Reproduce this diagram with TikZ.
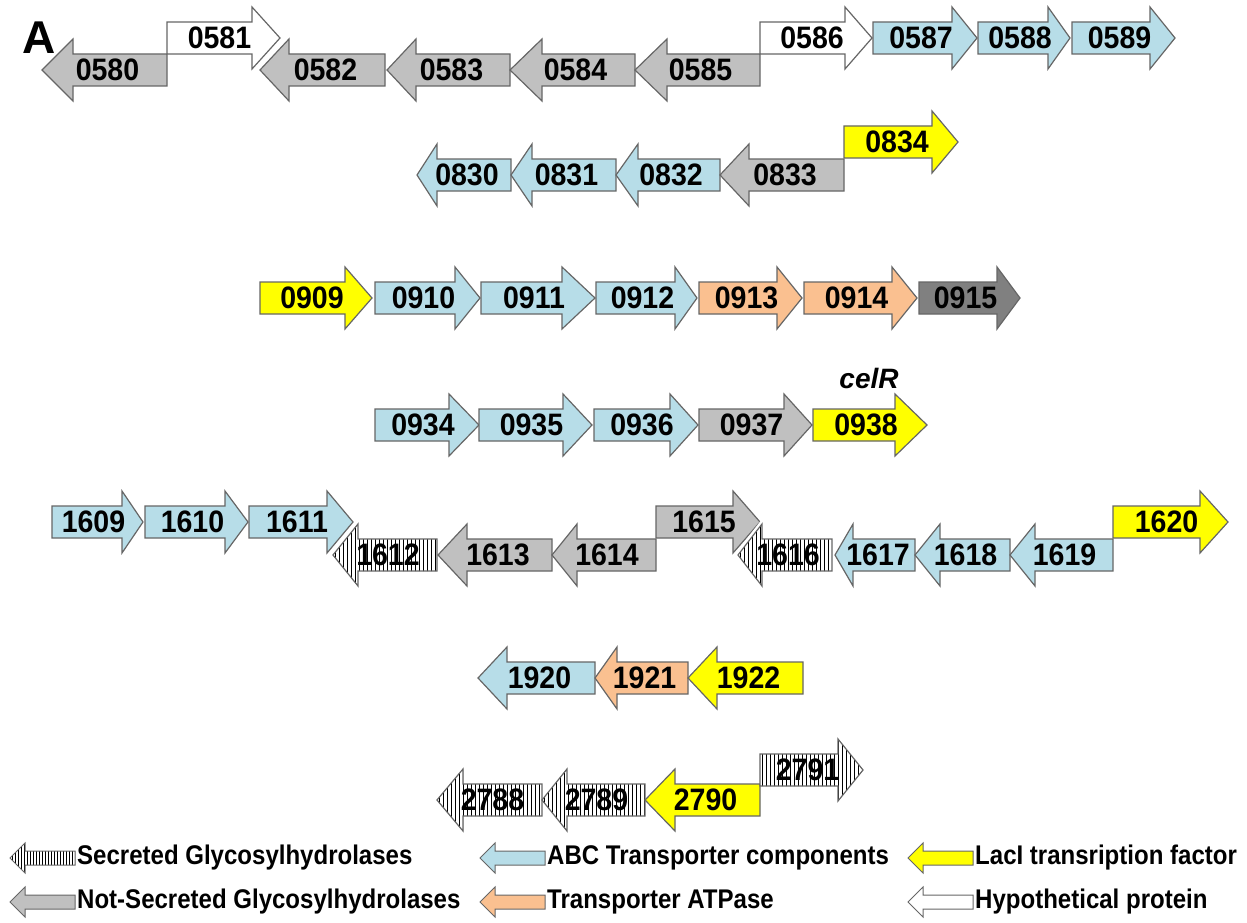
\documentclass[tikz,border=0pt]{standalone}
\usepackage{fontspec}
\setmainfont{Liberation Sans}
\newfontfamily\lblfont[FakeStretch=0.92]{Liberation Sans}
\newfontfamily\legfont[FakeStretch=0.89]{Liberation Sans}
\definecolor{abc}{HTML}{B7DDE8}
\definecolor{ngh}{HTML}{C0C0C0}
\definecolor{dgh}{HTML}{808080}
\definecolor{atp}{HTML}{FAC090}
\definecolor{lac}{HTML}{FFFF00}
\definecolor{edgec}{HTML}{666666}
\tikzset{
  gene/.style={draw=edgec, line width=1.2pt, line join=miter},
  hyp/.style={fill=white},
  abcf/.style={fill=abc},
  nghf/.style={fill=ngh},
  dghf/.style={fill=dgh},
  atpf/.style={fill=atp},
  lacf/.style={fill=lac},
  secf/.style={fill=white, path picture={
      \foreach \i in {2,6,...,130}
        \draw[black,line width=0.9pt] ([xshift=\i pt]path picture bounding box.south west) -- ([xshift=\i pt]path picture bounding box.north west);}},
  secs/.style={fill=white, path picture={
      \foreach \i in {2,5,...,70}
        \draw[black,line width=0.6pt] ([xshift=\i pt]path picture bounding box.south west) -- ([xshift=\i pt]path picture bounding box.north west);}},
  halo/.style={preaction={draw=white,line width=6pt}},
  lbl/.style={font=\lblfont\bfseries\fontsize{31}{31}\selectfont, inner sep=0pt, text=black},
  legtxt/.style={font=\legfont\bfseries\fontsize{27}{27}\selectfont, inner sep=0pt, anchor=west},
}
\newcommand\gR[6]{%
  \draw[gene,#6] (#2,#5-16) -- (#3,#5-16) -- (#3,#5-31) -- (#4,#5) -- (#3,#5+31) -- (#3,#5+16) -- (#2,#5+16) -- cycle;
  \node[lbl] (g#1) at ({(#2+#4)/2-4},#5) {#1};}
\newcommand\gL[6]{%
  \draw[gene,#6] (#2,#5) -- (#3,#5-31) -- (#3,#5-16) -- (#4,#5-16) -- (#4,#5+16) -- (#3,#5+16) -- (#3,#5+31) -- cycle;
  \node[lbl] (g#1) at ({(#2+#4)/2+3},#5) {#1};}
\newcommand\legitem[5]{%
  \draw[gene,line width=1pt,#4] (#2,#3) -- (#2+15,#3-15) -- (#2+15,#3-7) -- (#2+65,#3-7) -- (#2+65,#3+7) -- (#2+15,#3+7) -- (#2+15,#3+15) -- cycle;
  \node[legtxt] (#1) at (#2+67,#3) {#5};}
\begin{document}
\begin{tikzpicture}[x=1pt,y=-1pt]
\useasboundingbox (0,0) rectangle (1247,923);
\node[font=\bfseries\fontsize{46}{46}\selectfont, inner sep=0pt] (A) at (39,38) {A};
% row 1
\gL{0580}{42}{73}{167}{70}{nghf}
\gR{0581}{167}{252}{280}{38}{hyp}
\gL{0582}{260}{289}{385}{70}{nghf,halo}
\gL{0583}{387}{416}{510}{70}{nghf}
\gL{0584}{510}{542}{635}{70}{nghf}
\gL{0585}{635}{667}{760}{70}{nghf}
\gR{0586}{760}{845}{872}{38}{hyp}
\gR{0587}{873}{952}{977}{38}{abcf}
\gR{0588}{978}{1048}{1070}{38}{abcf}
\gR{0589}{1072}{1150}{1175}{38}{abcf}
% row 2
\gL{0830}{417}{437}{511}{175}{abcf}
\gL{0831}{511}{532}{616}{175}{abcf}
\gL{0832}{616}{638}{720}{175}{abcf}
\gL{0833}{720}{749}{844}{175}{nghf}
\gR{0834}{844}{932}{958}{142}{lacf}
% row 3
\gR{0909}{260}{345}{372}{298}{lacf}
\gR{0910}{375}{455}{480}{298}{abcf}
\gR{0911}{481}{562}{595}{298}{abcf}
\gR{0912}{596}{675}{697}{298}{abcf}
\gR{0913}{699}{777}{802}{298}{atpf}
\gR{0914}{804}{892}{917}{298}{atpf}
\gR{0915}{919}{997}{1020}{298}{dghf}
% row 4
\gR{0934}{375}{449}{479}{425}{abcf}
\gR{0935}{479}{563}{592}{425}{abcf}
\gR{0936}{594}{670}{698}{425}{abcf}
\gR{0937}{699}{784}{812}{425}{nghf}
\gR{0938}{813}{895}{927}{425}{lacf}
\node[font=\bfseries\itshape\fontsize{28}{28}\selectfont, inner sep=0pt] (celR) at (869,378) {celR};
% row 5
\gR{1609}{52}{122}{143}{522}{abcf}
\gR{1610}{145}{225}{248}{522}{abcf}
\gR{1611}{249}{327}{353}{522}{abcf}
\gL{1612}{333}{358}{437}{555}{secf,halo}
\gL{1613}{438}{467}{552}{555}{nghf}
\gL{1614}{552}{577}{656}{555}{nghf}
\gR{1615}{656}{733}{760}{522}{nghf}
\gL{1616}{738}{762}{832}{555}{secf,halo}
\gL{1617}{835}{853}{915}{555}{abcf}
\gL{1618}{915}{940}{1010}{555}{abcf}
\gL{1619}{1010}{1035}{1113}{555}{abcf}
\gR{1620}{1113}{1200}{1228}{522}{lacf}
% row 6
\gL{1920}{478}{507}{595}{678}{abcf}
\gL{1921}{595}{617}{688}{678}{atpf}
\gL{1922}{688}{717}{803}{678}{lacf}
% row 7
\gL{2788}{437}{463}{542}{800}{secf}
\gL{2789}{542}{567}{645}{800}{secf}
\gL{2790}{645}{675}{760}{800}{lacf}
\gR{2791}{760}{838}{863}{770}{secf}
% legend
\legitem{lsec}{10}{858}{secs}{Secreted Glycosylhydrolases}
\legitem{labc}{480}{858}{abcf}{ABC Transporter components}
\legitem{llac}{908}{858}{lacf}{LacI transription factor}
\legitem{lngh}{10}{902}{nghf}{Not-Secreted Glycosylhydrolases}
\legitem{latp}{480}{902}{atpf}{Transporter ATPase}
\legitem{lhyp}{908}{902}{hyp}{Hypothetical protein}
\end{tikzpicture}
\end{document}
